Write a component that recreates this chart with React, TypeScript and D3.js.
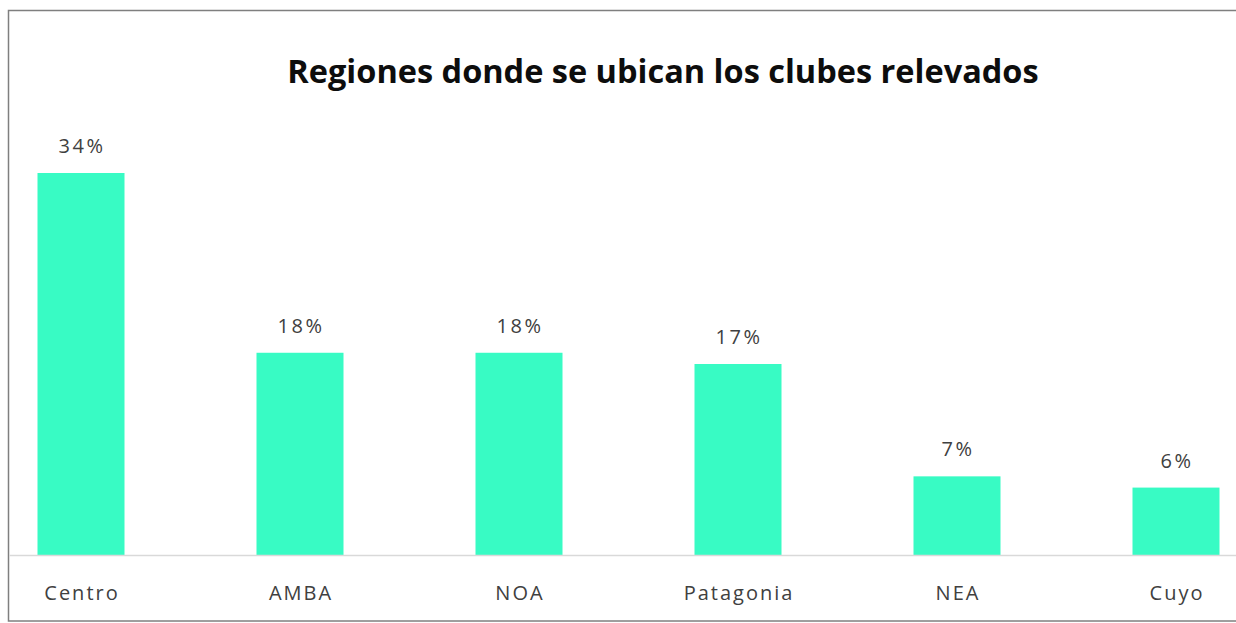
import React from "react";
import * as d3 from "d3";

const categories = ["Centro", "AMBA", "NOA", "Patagonia", "NEA", "Cuyo"];
const values = [34, 18, 18, 17, 7, 6];
const valueLabels = ["34%", "18%", "18%", "17%", "7%", "6%"];
const title = "Regiones donde se ubican los clubes relevados";

const W = 1236;
const H = 623;

export default function App() {
  const x = d3.scalePoint<string>().domain(categories).range([-28.5, 1285.5]).padding(0.5);
  const y = d3.scaleLinear().domain([0, 34]).range([555, 173]);
  const barW = 87;
  const font = "'Open Sans', 'DejaVu Sans', sans-serif";
  return (
    <svg width={W} height={H} style={{ position: "absolute", left: 0, top: 0, background: "#fff" }}>
      <rect x={8.5} y={10.5} width={W + 20} height={610.5} fill="#fff" stroke="#7f7f7f" strokeWidth={1.5} />
      <text x={663} y={83} textAnchor="middle" fontFamily={font} fontWeight="bold" fontSize={32.5} fill="#0d0d0d">
        {title}
      </text>
      {categories.map((c, i) => (
        <g key={c}>
          <rect x={(x(c) as number) - barW / 2} y={y(values[i])} width={barW} height={y(0) - y(values[i])} fill="#38fbc4" />
          <text x={(x(c) as number) + 1} y={y(values[i]) - 20} textAnchor="middle" fontFamily={font} fontSize={20} fill="#404040" letterSpacing={2.5}>
            {valueLabels[i]}
          </text>
          <text x={(x(c) as number) + 1} y={600} textAnchor="middle" fontFamily={font} fontSize={20} fill="#404040" letterSpacing={2}>
            {c}
          </text>
        </g>
      ))}
      <line x1={9} x2={W} y1={y(0) + 0.5} y2={y(0) + 0.5} stroke="#d9d9d9" strokeWidth={1.5} />
    </svg>
  );
}
